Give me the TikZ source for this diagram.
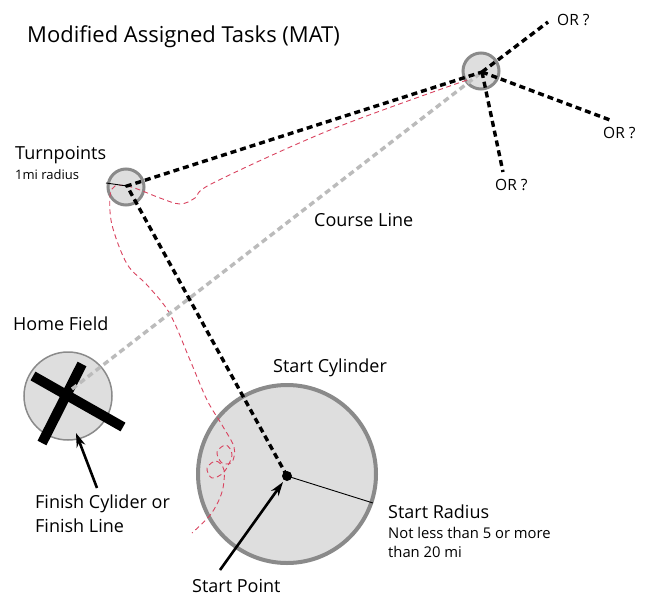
\documentclass[tikz,border=0pt]{standalone}
\usepackage{fontspec}
\setmainfont{Open Sans}
\usetikzlibrary{arrows.meta}
\definecolor{cylfill}{HTML}{DEDEDE}
\definecolor{cyledge}{HTML}{8A8A8A}
\definecolor{courseclr}{HTML}{BBBBBB}
\definecolor{trackclr}{HTML}{D9435F}

\begin{document}
\begin{tikzpicture}[x=1pt,y=-1pt,
    cyl/.style={circle, draw=cyledge, fill=cylfill, inner sep=0pt},
    leg/.style={black, line width=3.4pt, dash pattern=on 6pt off 4pt},
    courseline/.style={courseclr, line width=3.4pt, dash pattern=on 6pt off 4pt},
    track/.style={trackclr, line width=0.9pt, dash pattern=on 5pt off 3.5pt},
    lbl/.style={anchor=base west, inner sep=0pt, font=\fontsize{18}{20}\selectfont},
    smalllbl/.style={lbl, font=\fontsize{14.8}{19}\selectfont, align=left},
    pointer/.style={-{Stealth[length=14pt,width=9pt]}, line width=2.6pt}]
  \useasboundingbox (0,0) rectangle (650,602);

  % cylinders
  \node[cyl, line width=3pt, minimum size=36pt] (tpone) at (126,187) {};
  \node[cyl, line width=3pt, minimum size=36pt] (tptwo) at (481,71) {};
  \node[cyl, line width=1.5pt, minimum size=88pt] (home) at (68,396) {};
  \node[cyl, line width=4pt, minimum size=178pt] (startcyl) at (287,474) {};

  \coordinate (tponec) at (127,186);
  \coordinate (tptwoc) at (482,72);
  \coordinate (homec) at (72,389);
  \coordinate (sp) at (287,476);

  % finish cross
  \draw[line width=10pt] (33,376) -- (123,427);
  \draw[line width=10pt] (82,364) -- (42,443);

  % flown track
  \draw[track] plot[smooth, tension=0.55] coordinates {(467,80) (330,130) (213,183)
    (195,198) (180,204) (160,198) (140,190) (127,186) (115,186) (110,196)
    (112,225) (127,264) (148,286) (170,314) (190,360) (207,400) (222,425)
    (234,447) (232,462) (222,463) (217,452) (226,445) (232,455) (224,472)
    (212,478) (207,468) (216,461) (224,470) (222,492) (211,514) (192,533)};

  % course line and task legs
  \draw[courseline] (homec) -- (tptwoc);
  \draw[leg] (sp) -- (tponec) -- (tptwoc);
  \coordinate (orup) at (548,22);
  \coordinate (orright) at (610,120);
  \coordinate (ordown) at (503,172);
  \draw[leg] (tptwoc) -- (orup);
  \draw[leg] (tptwoc) -- (orright);
  \draw[leg] (tptwoc) -- (ordown);

  % radii
  \draw[line width=0.9pt] (106,183) -- (tponec);
  \draw[line width=0.9pt] (sp) -- (373,503);
  \fill (sp) circle (5pt);

  % labels
  \node[lbl, font=\fontsize{22}{24}\selectfont] (title) at (27,42) {Modified Assigned Tasks (MAT)};
  \node[lbl, font=\fontsize{15.5}{19}\selectfont] (ortop) at (557,26) {OR ?};
  \node[lbl, font=\fontsize{15.5}{19}\selectfont] (orrt) at (603,138) {OR ?};
  \node[lbl, font=\fontsize{15.5}{19}\selectfont] (orbot) at (495,190) {OR ?};
  \node[lbl] (tplbl) at (15,159) {Turnpoints};
  \node[smalllbl, font=\fontsize{13}{16}\selectfont] (tprad) at (15,179) {1mi radius};
  \node[lbl] (courselbl) at (314,226) {Course Line};
  \node[lbl] (homelbl) at (13,330) {Home Field};
  \node[lbl, align=left, font=\fontsize{18}{24}\selectfont] (finlbl) at (35,532) {Finish Cylider or\\Finish Line};
  \node[lbl] (startcyllbl) at (273,372) {Start Cylinder};
  \node[lbl] (radlbl) at (388,518) {Start Radius};
  \node[smalllbl] (radnote) at (388,557) {Not less than 5 or more\\than 20 mi};
  \node[lbl] (splbl) at (192,592) {Start Point};

  % pointers
  \draw[pointer] (97,488) -- (76,433);
  \draw[pointer] (220,570) -- (283,482);
\end{tikzpicture}
\end{document}
